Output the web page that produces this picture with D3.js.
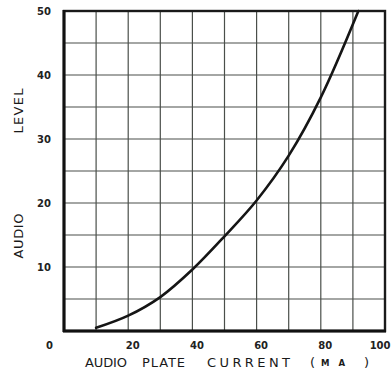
<!DOCTYPE html>
<html>
<head>
<meta charset="utf-8">
<script src="https://cdn.jsdelivr.net/npm/d3@7"></script>
<style>
  html, body { margin: 0; padding: 0; background: #fff; }
  svg { display: block; }
</style>
</head>
<body>
<svg id="chart" width="391" height="375"></svg>
<script>
// ---- data ----
const plateCurrent = [10, 20, 30, 40, 50, 60, 70, 80, 91.7];
const audioLevel   = [0.5, 2.4, 5.3, 9.6, 14.8, 20.4, 27.4, 36.5, 50];
const xTickValues = [0, 20, 40, 60, 80, 100];
const yTickValues = [10, 20, 30, 40, 50];
const xGridValues = [0, 10, 20, 30, 40, 50, 60, 70, 80, 90, 100];
const yGridValues = [0, 5, 10, 15, 20, 25, 30, 35, 40, 45, 50];
const xTitleWords = ["AUDIO", "PLATE", "CURRENT"];
const xTitleUnit = "MA";
const yTitleWords = ["AUDIO", "LEVEL"];

(function () {
// ---- layout ----
const svg = d3.select("#chart");
const pL = 64, pR = 385, pT = 11, pB = 331;
const x = d3.scaleLinear().domain([0, 100]).range([pL, pR]);
const y = d3.scaleLinear().domain([0, 50]).range([pB, pT]);

const font = "'DejaVu Sans', 'Liberation Sans', sans-serif";
const ink = "#1a1a1a";

// grid
svg.append("g").selectAll("line").data(xGridValues).join("line")
  .attr("x1", d => x(d)).attr("x2", d => x(d))
  .attr("y1", pT).attr("y2", pB)
  .attr("stroke", "#4a4f4a").attr("stroke-width", 1.2);
svg.append("g").selectAll("line").data(yGridValues).join("line")
  .attr("y1", d => y(d)).attr("y2", d => y(d))
  .attr("x1", pL).attr("x2", pR)
  .attr("stroke", "#4a4f4a").attr("stroke-width", 1.2);

// frame
svg.append("rect")
  .attr("x", pL).attr("y", pT)
  .attr("width", pR - pL).attr("height", pB - pT)
  .attr("fill", "none").attr("stroke", ink).attr("stroke-width", 2.4);
svg.append("line").attr("x1", pL).attr("x2", pL).attr("y1", pT - 1).attr("y2", pB + 1)
  .attr("stroke", "#111").attr("stroke-width", 3);
svg.append("line").attr("x1", pL - 1).attr("x2", pR + 1).attr("y1", pB).attr("y2", pB)
  .attr("stroke", "#111").attr("stroke-width", 3);

// axes (labels only)
const xAxis = d3.axisBottom(x).tickValues(xTickValues).tickSize(0).tickPadding(0)
  .tickFormat(d3.format("d"));
const gx = svg.append("g").attr("transform", `translate(0,${pB})`).call(xAxis);
gx.select(".domain").remove();
gx.selectAll("text")
  .attr("font-family", font).attr("font-size", 10).attr("font-weight", "bold")
  .attr("fill", "#222").attr("y", 14).attr("dy", "0.35em")
  .attr("dx", d => d === 0 ? -15 : 4);
gx.selectAll(".tick").filter(d => d === 100).select("text")
  .attr("text-anchor", "end").attr("dx", 5);

const yAxis = d3.axisLeft(y).tickValues(yTickValues).tickSize(0).tickPadding(0)
  .tickFormat(d3.format("d"));
const gy = svg.append("g").attr("transform", `translate(${pL},0)`).call(yAxis);
gy.select(".domain").remove();
gy.selectAll("text")
  .attr("font-family", font).attr("font-size", 10).attr("font-weight", "bold")
  .attr("fill", "#222").attr("x", -13).attr("dy", "0.35em");

// curve
const pts = plateCurrent.map((d, i) => [d, audioLevel[i]]);
svg.append("path")
  .datum(pts)
  .attr("fill", "none").attr("stroke", "#151515").attr("stroke-width", 2.6)
  .attr("stroke-linecap", "round")
  .attr("d", d3.line().x(d => x(d[0])).y(d => y(d[1])).curve(d3.curveCatmullRom.alpha(0.5)));

// x title
const xStarts = [85, 142, 207];
const xLens = [42, 43, 83];
xTitleWords.forEach((w, i) => {
  svg.append("text")
    .attr("x", xStarts[i]).attr("y", 367)
    .attr("font-family", font).attr("font-size", 13)
    .attr("fill", ink)
    .attr("textLength", xLens[i]).attr("lengthAdjust", "spacing")
    .text(w);
});
svg.append("text").attr("x", 310).attr("y", 367)
  .attr("font-family", font).attr("font-size", 13).attr("fill", ink).text("(");
svg.append("text").attr("x", 321).attr("y", 366)
  .attr("font-family", font).attr("font-size", 8.5).attr("font-weight", "bold").attr("fill", ink)
  .attr("textLength", 24).attr("lengthAdjust", "spacing").text(xTitleUnit);
svg.append("text").attr("x", 364).attr("y", 367)
  .attr("font-family", font).attr("font-size", 13).attr("fill", ink).text(")");

// y title
const yPos = [236, 111];
yTitleWords.forEach((w, i) => {
  svg.append("text")
    .attr("transform", `translate(23,${yPos[i]}) rotate(-90)`)
    .attr("text-anchor", "middle")
    .attr("font-family", font).attr("font-size", 13)
    .attr("fill", ink)
    .attr("textLength", 45).attr("lengthAdjust", "spacing")
    .text(w);
});
})();
</script>
</body>
</html>
